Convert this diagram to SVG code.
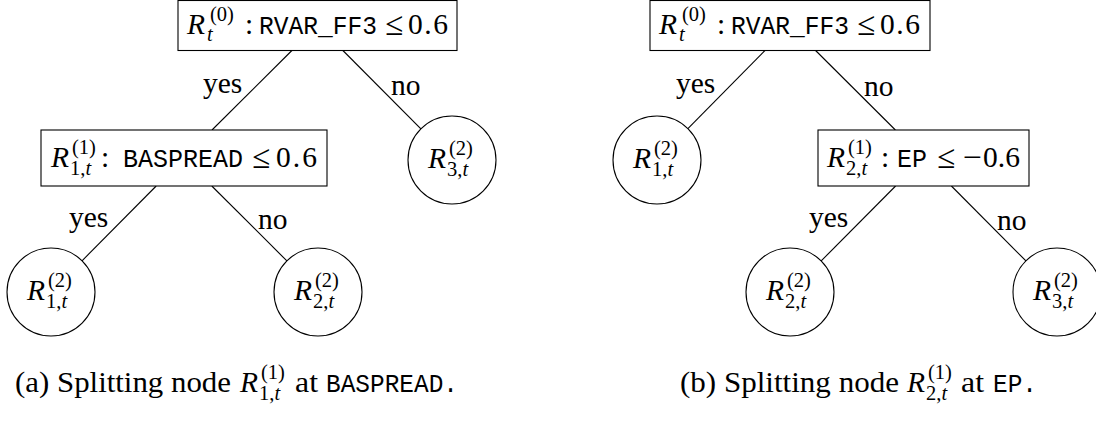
<svg xmlns="http://www.w3.org/2000/svg" width="1096" height="425" viewBox="0 0 1096 425">
  <style>
    .box { fill: #fff; stroke: #000; stroke-width: 1.1; }
    .leaf { fill: #fff; stroke: #000; stroke-width: 1.1; }
    .edges line { stroke: #000; stroke-width: 1.1; }
    text { font-family: "Liberation Serif", "Times New Roman", serif; font-size: 29.5px; fill: #000; }
    .it { font-style: italic; }
    .sc { font-size: 20.5px; }
    .rel { font-size: 33px; }
    .tt { font-family: "Liberation Mono", "Courier New", monospace; font-size: 25px; }
  </style>
  <rect width="1096" height="425" fill="#fff"/>

  <!-- ===== Tree (a) ===== -->
  <g id="edges-a" class="edges">
    <line x1="292.4" y1="50" x2="212" y2="130"/>
    <line x1="342.4" y1="50" x2="420.9" y2="128.8"/>
    <line x1="156.2" y1="186" x2="82" y2="260.8"/>
    <line x1="211.8" y1="186" x2="286.9" y2="260.9"/>
  </g>
  <g id="edge-labels-a">
    <text x="203" y="93">yes</text>
    <text x="391" y="95">no</text>
    <text x="69" y="227">yes</text>
    <text x="258" y="229">no</text>
  </g>

  <g id="a-root">
    <rect class="box" x="178" y="0.5" width="279" height="50"/>
    <text class="it" x="187" y="34">R</text>
    <text class="sc" x="210" y="21">(0)</text>
    <text class="sc it" x="207" y="41">t</text>
    <text x="245" y="34">:</text>
    <text class="tt" x="259" y="34" textLength="118" lengthAdjust="spacingAndGlyphs">RVAR_FF3</text>
    <text class="rel" x="385" y="35">≤</text>
    <text x="408" y="34" textLength="40">0.6</text>
  </g>

  <g id="a-split">
    <rect class="box" x="41" y="130" width="286" height="56"/>
    <text class="it" x="51" y="167">R</text>
    <text class="sc" x="72" y="154">(1)</text>
    <text class="sc" x="70" y="175">1,<tspan class="it">t</tspan></text>
    <text x="101" y="167">:</text>
    <text class="tt" x="123" y="167" textLength="120" lengthAdjust="spacingAndGlyphs">BASPREAD</text>
    <text class="rel" x="252" y="168">≤</text>
    <text x="276" y="167" textLength="41">0.6</text>
  </g>

  <g id="a-leaf3">
    <circle class="leaf" cx="452" cy="160" r="44"/>
    <text class="it" x="428" y="168">R</text>
    <text class="sc" x="449" y="155">(2)</text>
    <text class="sc" x="447" y="176">3,<tspan class="it">t</tspan></text>
  </g>

  <g id="a-leaf1">
    <circle class="leaf" cx="51" cy="292" r="44"/>
    <text class="it" x="27" y="300">R</text>
    <text class="sc" x="48" y="287">(2)</text>
    <text class="sc" x="46" y="308">1,<tspan class="it">t</tspan></text>
  </g>

  <g id="a-leaf2">
    <circle class="leaf" cx="318" cy="292" r="44"/>
    <text class="it" x="294" y="300">R</text>
    <text class="sc" x="315" y="287">(2)</text>
    <text class="sc" x="313" y="308">2,<tspan class="it">t</tspan></text>
  </g>

  <!-- ===== Tree (b) ===== -->
  <g id="edges-b" class="edges">
    <line x1="765.4" y1="50" x2="687.9" y2="128.7"/>
    <line x1="815.1" y1="50" x2="895.4" y2="130"/>
    <line x1="895.6" y1="186" x2="821.2" y2="260.9"/>
    <line x1="951.4" y1="186" x2="1025.9" y2="260.9"/>
  </g>
  <g id="edge-labels-b">
    <text x="676" y="93">yes</text>
    <text x="864" y="96">no</text>
    <text x="809" y="227">yes</text>
    <text x="997" y="230">no</text>
  </g>

  <g id="b-root">
    <rect class="box" x="650" y="0.5" width="280" height="50"/>
    <text class="it" x="659" y="34">R</text>
    <text class="sc" x="682" y="21">(0)</text>
    <text class="sc it" x="679" y="41">t</text>
    <text x="717" y="34">:</text>
    <text class="tt" x="731" y="34" textLength="118" lengthAdjust="spacingAndGlyphs">RVAR_FF3</text>
    <text class="rel" x="857" y="35">≤</text>
    <text x="880" y="34" textLength="40">0.6</text>
  </g>

  <g id="b-leaf1">
    <circle class="leaf" cx="657" cy="160" r="44"/>
    <text class="it" x="633" y="168">R</text>
    <text class="sc" x="654" y="155">(2)</text>
    <text class="sc" x="652" y="176">1,<tspan class="it">t</tspan></text>
  </g>

  <g id="b-split">
    <rect class="box" x="818" y="130" width="211" height="56"/>
    <text class="it" x="827" y="167">R</text>
    <text class="sc" x="848" y="154">(1)</text>
    <text class="sc" x="846" y="175">2,<tspan class="it">t</tspan></text>
    <text x="881" y="167">:</text>
    <text class="tt" x="897" y="167" textLength="30" lengthAdjust="spacingAndGlyphs">EP</text>
    <text class="rel" x="937" y="168">≤</text>
    <text x="963" y="167" textLength="19" lengthAdjust="spacingAndGlyphs">−</text>
    <text x="983" y="167" textLength="37">0.6</text>
  </g>

  <g id="b-leaf2">
    <circle class="leaf" cx="790" cy="292" r="44"/>
    <text class="it" x="766" y="300">R</text>
    <text class="sc" x="787" y="287">(2)</text>
    <text class="sc" x="785" y="308">2,<tspan class="it">t</tspan></text>
  </g>

  <g id="b-leaf3">
    <circle class="leaf" cx="1057" cy="292" r="44"/>
    <text class="it" x="1033" y="300">R</text>
    <text class="sc" x="1054" y="287">(2)</text>
    <text class="sc" x="1052" y="308">3,<tspan class="it">t</tspan></text>
  </g>

  <!-- ===== Captions ===== -->
  <g id="caption-a">
    <text x="15" y="392" textLength="216" lengthAdjust="spacingAndGlyphs">(a) Splitting node</text>
    <text class="it" x="240" y="392">R</text>
    <text class="sc" x="261" y="379">(1)</text>
    <text class="sc" x="259" y="400">1,<tspan class="it">t</tspan></text>
    <text x="295" y="392" textLength="23" lengthAdjust="spacingAndGlyphs">at</text>
    <text class="tt" x="326" y="392" textLength="132" lengthAdjust="spacingAndGlyphs">BASPREAD.</text>
  </g>

  <g id="caption-b">
    <text x="680" y="392" textLength="219" lengthAdjust="spacingAndGlyphs">(b) Splitting node</text>
    <text class="it" x="907" y="392">R</text>
    <text class="sc" x="928" y="379">(1)</text>
    <text class="sc" x="926" y="400">2,<tspan class="it">t</tspan></text>
    <text x="961" y="392" textLength="23" lengthAdjust="spacingAndGlyphs">at</text>
    <text class="tt" x="993" y="392" textLength="44" lengthAdjust="spacingAndGlyphs">EP.</text>
  </g>
</svg>
